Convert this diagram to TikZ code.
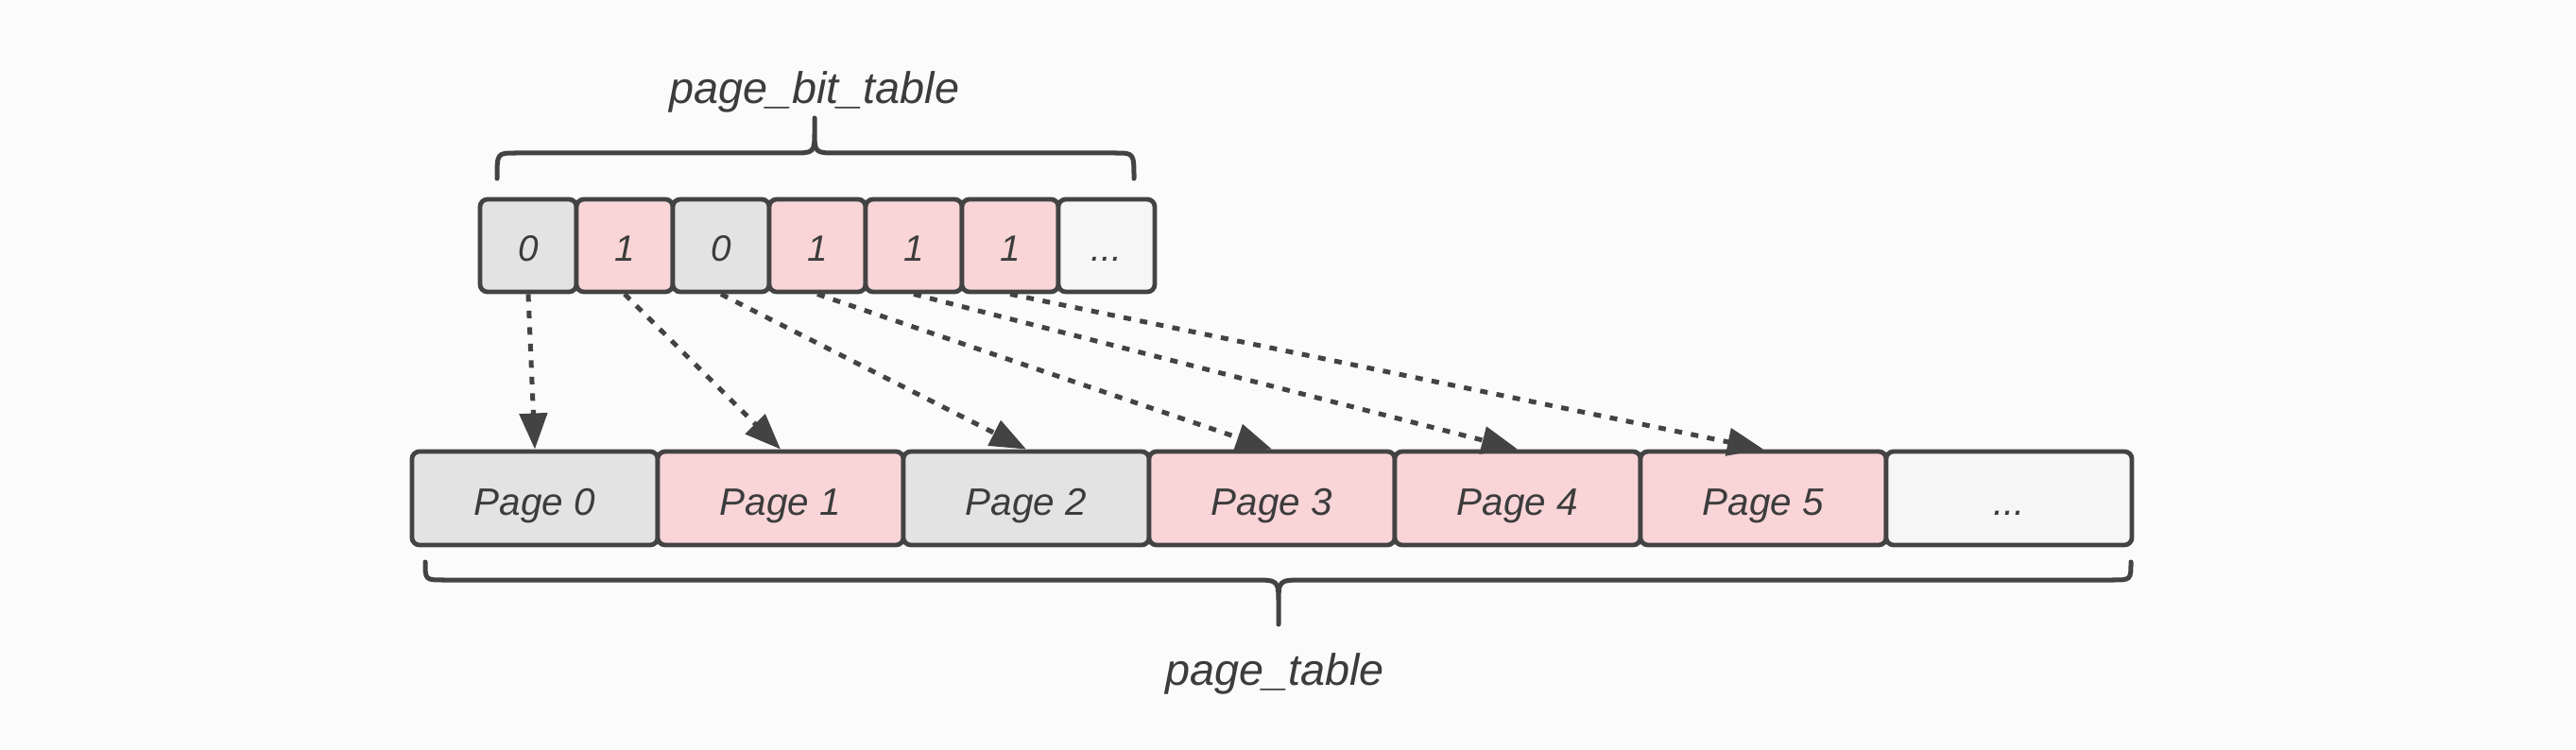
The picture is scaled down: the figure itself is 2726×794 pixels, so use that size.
\documentclass[tikz,border=0pt]{standalone}
\usepackage{fontspec}
\setmainfont{Liberation Sans}
\usetikzlibrary{arrows.meta}
\definecolor{bg}{HTML}{FBFBFB}
\definecolor{strk}{HTML}{434343}
\definecolor{txt}{HTML}{3C3C3C}
\definecolor{grayf}{HTML}{E3E3E3}
\definecolor{pinkf}{HTML}{F9D5D8}
\definecolor{whitef}{HTML}{F6F6F6}
\tikzset{
  cell/.style={draw=strk, line width=0.048cm, rounded corners=0.08cm, inner sep=0pt, text=txt, font=\fontsize{11}{13}\selectfont\itshape},
  bitcell/.style={cell, minimum width=1.02cm, minimum height=0.98cm, text height=9.6pt, text depth=0pt},
  pagecell/.style={cell, minimum width=2.6cm, minimum height=0.99cm, text height=10pt, text depth=0pt, font=\fontsize{11.5}{13}\selectfont\itshape},
  zero/.style={fill=grayf},
  one/.style={fill=pinkf},
  rest/.style={fill=whitef},
  link/.style={draw=strk, line width=0.05cm, dash pattern=on 0.08cm off 0.095cm, -{Triangle[length=0.38cm,width=0.29cm]}},
  brace/.style={draw=strk, line width=0.05cm, line cap=round},
  lbl/.style={text=txt, font=\fontsize{13.3}{15}\selectfont\itshape, anchor=base, inner sep=0pt}
}
\begin{document}
\begin{tikzpicture}[x=0.01cm,y=-0.01cm]
\fill[bg] (0,0) rectangle (2726,794);
\useasboundingbox (0,0) rectangle (2726,794);
% bit table
\node[bitcell,zero] (b0) at (559,260) {0};
\node[bitcell,one]  (b1) at (661,260) {1};
\node[bitcell,zero] (b2) at (763,260) {0};
\node[bitcell,one]  (b3) at (865,260) {1};
\node[bitcell,one]  (b4) at (967,260) {1};
\node[bitcell,one]  (b5) at (1069,260) {1};
\node[bitcell,rest] (b6) at (1171,260) {...};
% page table
\node[pagecell,zero] (p0) at (566,527.5) {Page 0};
\node[pagecell,one]  (p1) at (826,527.5) {Page 1};
\node[pagecell,zero] (p2) at (1086,527.5) {Page 2};
\node[pagecell,one]  (p3) at (1346,527.5) {Page 3};
\node[pagecell,one]  (p4) at (1606,527.5) {Page 4};
\node[pagecell,one]  (p5) at (1866,527.5) {Page 5};
\node[pagecell,rest] (p6) at (2126,527.5) {...};
% arrows
\foreach \i in {0,...,5} {
  \draw[link] (b\i.south) -- (p\i.north);
}
% top brace
\draw[brace] (526,189) .. controls (526,162) .. (546,162) -- (838,162)
  .. controls (862,162) .. (862,138) -- (862,125)
  (862,138) .. controls (862,162) .. (886,162) -- (1180,162)
  .. controls (1200,162) .. (1200,189);
\node[lbl] (lbit) at (862,110) {page\_bit\_table};
% bottom brace
\draw[brace] (450,595) .. controls (450,614) .. (470,614) -- (1326,614)
  .. controls (1353,614) .. (1353,640) -- (1353,661)
  (1353,640) .. controls (1353,614) .. (1380,614) -- (2235,614)
  .. controls (2255,614) .. (2255,595);
\node[lbl] (lpage) at (1349,725) {page\_table};
\end{tikzpicture}
\end{document}
